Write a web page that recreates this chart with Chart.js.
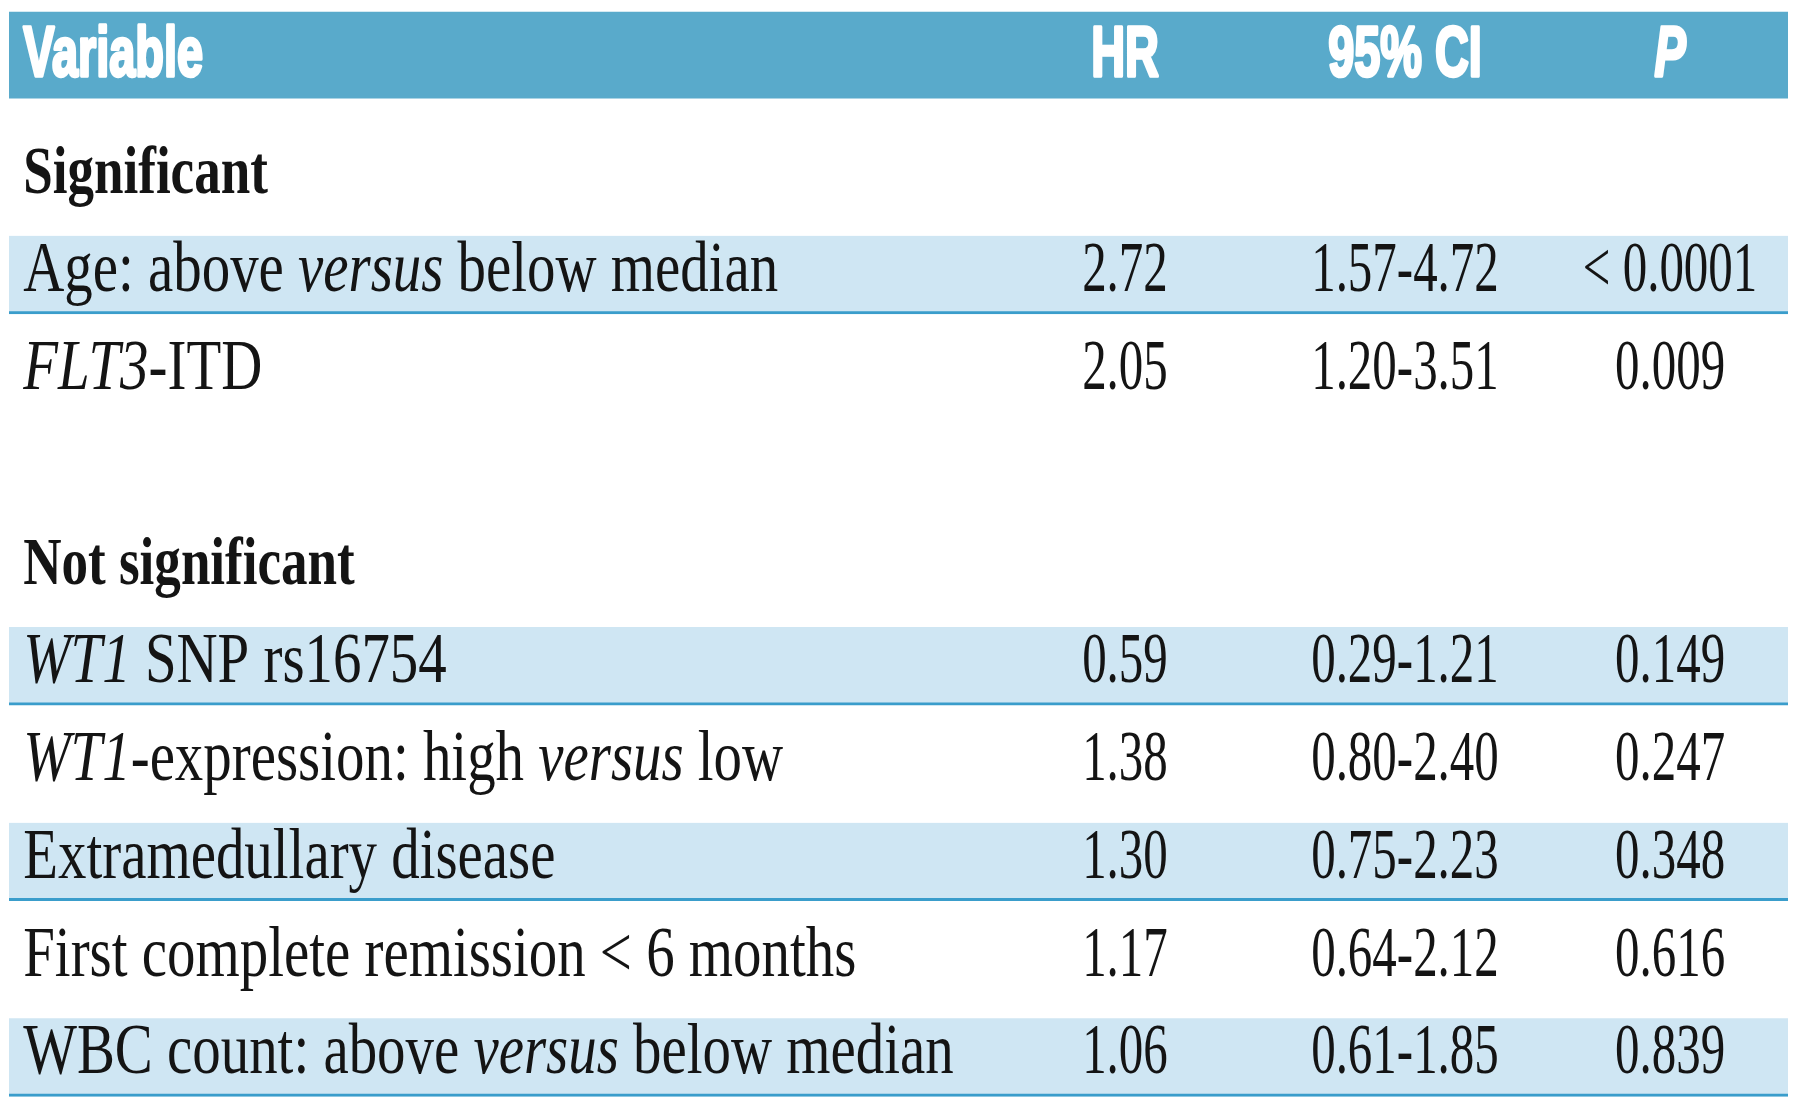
<!DOCTYPE html>
<html>
<head>
<meta charset="utf-8">
<script src="https://cdn.jsdelivr.net/npm/chart.js@4/dist/chart.umd.min.js"></script>
<style>
  html, body { margin: 0; padding: 0; background: #ffffff; }
  #wrap { width: 1800px; height: 1118px; position: relative; }
</style>
</head>
<body>
<div id="wrap"><canvas id="c"></canvas></div>
<script>
// ---------- DATA ----------
// *text* = italic run, **text** = bold run
const columnHeaders = ['Variable', 'HR', '95% CI', '*P*'];
const variables = [
  '**Significant**',
  'Age: above *versus* below median',
  '*FLT3*-ITD',
  '',
  '**Not significant**',
  '*WT1* SNP rs16754',
  '*WT1*-expression: high *versus* low',
  'Extramedullary disease',
  'First complete remission < 6 months',
  'WBC count: above *versus* below median'
];
const hrValues = ['', '2.72', '2.05', '', '', '0.59', '1.38', '1.30', '1.17', '1.06'];
const ciValues = ['', '1.57-4.72', '1.20-3.51', '', '', '0.29-1.21', '0.80-2.40', '0.75-2.23', '0.64-2.12', '0.61-1.85'];
const pValues  = ['', '< 0.0001', '0.009', '', '', '0.149', '0.247', '0.348', '0.616', '0.839'];
const shadedRows = [1, 5, 7, 9];

// ---------- LAYOUT / STYLE ----------
const HEADER_POS = -1.247;          // header row position on the row axis
const COL_POS = [0.8, 62.73, 78.47, 93.37]; // column anchors on the x axis (0..100)
const COL_ALIGN = ['left', 'center', 'center', 'center'];
const SERIF = '"Liberation Serif", "Times New Roman", serif';
const SANS = '"Liberation Sans", Arial, sans-serif';
const HEADER_BG = '#59aacb';
const BAND_BG = '#cfe6f3';
const BAND_LINE = '#3a9dcb';
const TEXT = '#141414';

function parseRuns(text) {
  const parts = text.split(/(\*\*[^*]+\*\*|\*[^*]+\*)/).filter(s => s.length);
  return parts.map(p => {
    if (p.startsWith('**')) return { t: p.slice(2, -2), bold: true, italic: false };
    if (p.startsWith('*')) return { t: p.slice(1, -1), bold: false, italic: true };
    return { t: p, bold: false, italic: false };
  });
}

function drawRuns(ctx, text, x, y, opts) {
  if (!text) return;
  const runs = parseRuns(text);
  let total = 0;
  runs.forEach(r => {
    const bold = r.bold || opts.bold;
    const size = r.bold && !opts.bold ? opts.boldSize : opts.size;
    r.font = (r.italic ? 'italic ' : '') + (bold ? 'bold ' : '') + size + 'px ' + opts.family;
    ctx.font = r.font;
    r.w = ctx.measureText(r.t).width;
    total += r.w;
  });
  const sx = runs.some(r => r.bold) && !opts.bold ? opts.boldScale : opts.scale;
  const start = opts.align === 'center' ? x - total * sx / 2 : x;
  ctx.save();
  ctx.translate(start, y);
  ctx.scale(sx, 1);
  ctx.fillStyle = opts.color;
  ctx.strokeStyle = opts.color;
  ctx.lineJoin = 'round';
  ctx.textBaseline = 'alphabetic';
  ctx.textAlign = 'left';
  let cx = 0;
  runs.forEach(r => {
    ctx.font = r.font;
    if (opts.stroke) {
      ctx.lineWidth = opts.stroke;
      ctx.strokeText(r.t, cx, 0);
    }
    ctx.fillText(r.t, cx, 0);
    cx += r.w;
  });
  ctx.restore();
}

const tablePlugin = {
  id: 'tableText',
  afterDatasetsDraw(chart) {
    const ctx = chart.ctx;
    const xs = chart.scales.x, ys = chart.scales.y;
    // header
    const hy = ys.getPixelForValue(HEADER_POS) + 21;
    columnHeaders.forEach((h, c) => {
      drawRuns(ctx, h, xs.getPixelForValue(COL_POS[c]), hy, {
        family: SANS, size: 71, bold: true, scale: 0.66, stroke: 3.5,
        align: COL_ALIGN[c], color: '#ffffff'
      });
    });
    // body
    const cols = [variables, hrValues, ciValues, pValues];
    variables.forEach((_, i) => {
      const y = ys.getPixelForValue(i) + 16;
      cols.forEach((arr, c) => {
        drawRuns(ctx, arr[i], xs.getPixelForValue(COL_POS[c]), y, {
          family: SERIF, size: 72, boldSize: 68, bold: false,
          scale: c === 0 ? 0.79 : 0.68, boldScale: 0.78,
          align: COL_ALIGN[c], color: TEXT
        });
      });
    });
  }
};

new Chart(document.getElementById('c'), {
  type: 'bar',
  data: {
    datasets: [
      {
        label: 'header',
        data: [{ x: [0, 100], y: HEADER_POS }],
        backgroundColor: HEADER_BG,
        borderWidth: 0,
        barThickness: 86,
        grouped: false
      },
      {
        label: 'shaded rows',
        data: shadedRows.map(r => ({ x: [0, 100], y: r })),
        backgroundColor: BAND_BG,
        borderColor: BAND_LINE,
        borderWidth: { top: 0, left: 0, right: 0, bottom: 3 },
        borderSkipped: false,
        barThickness: 78,
        grouped: false
      }
    ]
  },
  options: {
    indexAxis: 'y',
    responsive: true,
    maintainAspectRatio: false,
    animation: false,
    layout: { padding: { left: 9, right: 12, top: 0, bottom: 0 } },
    plugins: { legend: { display: false }, tooltip: { enabled: false }, title: { display: false } },
    scales: {
      x: { type: 'linear', min: 0, max: 100, display: false, grid: { display: false } },
      y: { type: 'linear', min: -1.81, max: 9.62, reverse: true, offset: false, display: false, grid: { display: false } }
    }
  },
  plugins: [tablePlugin]
});
</script>
</body>
</html>
